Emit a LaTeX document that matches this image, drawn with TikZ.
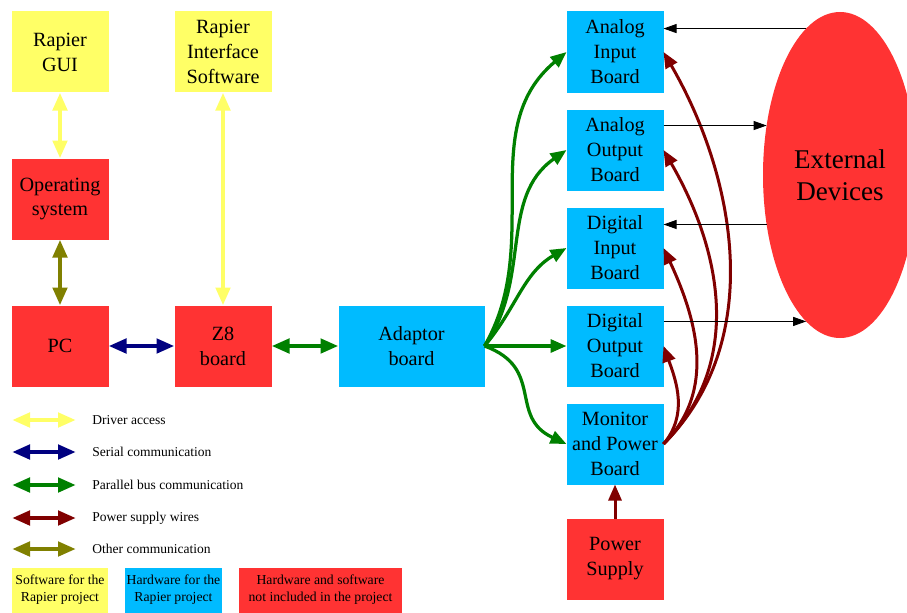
\documentclass[tikz,border=0pt]{standalone}
\usepackage{fontspec}
\setmainfont{Liberation Serif}
\usetikzlibrary{shapes.geometric, arrows.meta, positioning}
\definecolor{swyellow}{RGB}{255,255,102}
\definecolor{hwblue}{RGB}{0,187,255}
\definecolor{extred}{RGB}{255,51,51}
\definecolor{sernavy}{RGB}{0,0,128}
\definecolor{pargreen}{RGB}{0,128,0}
\definecolor{pwrred}{RGB}{128,0,0}
\definecolor{otholive}{RGB}{128,128,0}
\tikzset{
  swbox/.style={rectangle, fill=swyellow, minimum width=1.94cm, minimum height=1.62cm,
    align=center, font=\fontsize{11.5}{14.2}\selectfont, inner sep=0pt, outer sep=0pt},
  hwbox/.style={rectangle, fill=hwblue, minimum width=1.94cm, minimum height=1.62cm,
    align=center, font=\fontsize{11.5}{14.2}\selectfont, inner sep=0pt, outer sep=0pt},
  extbox/.style={rectangle, fill=extred, minimum width=1.94cm, minimum height=1.62cm,
    align=center, font=\fontsize{11.5}{14.2}\selectfont, inner sep=0pt, outer sep=0pt},
  legtext/.style={anchor=west, font=\fontsize{7.7}{9.6}\selectfont, inner sep=0pt},
  legbox/.style={rectangle, minimum height=0.9cm, align=center,
    font=\fontsize{7.8}{9.6}\selectfont, inner sep=0pt, outer sep=0pt},
  dblarrow/.style={{Triangle[length=0.36cm,width=0.28cm]}-{Triangle[length=0.36cm,width=0.28cm]},
    line width=0.09cm},
  busarrow/.style={-{Triangle[length=0.32cm,width=0.26cm]}, line width=0.065cm, color=pargreen},
  pwrarrow/.style={-{Triangle[length=0.32cm,width=0.26cm]}, line width=0.06cm, color=pwrred},
  sigarrow/.style={-{Triangle[length=0.26cm,width=0.18cm]}, line width=0.5pt, color=black}
}

\begin{document}
\begin{tikzpicture}
  \useasboundingbox (0,0) rectangle (18.14,-12.24);

  % Software and PC side
  \node[swbox] (gui) at (1.2,-1.04) {Rapier\\GUI};
  \node[swbox, right=1.32cm of gui] (ris) {Rapier\\Interface\\Software};
  \node[extbox, below=1.32cm of gui] (os) {Operating\\system};
  \node[extbox, below=1.32cm of os] (pc) {PC};
  \node[extbox, right=1.32cm of pc] (z8) {Z8\\board};
  \node[hwbox, minimum width=2.92cm, right=1.34cm of z8] (adaptor) {Adaptor\\board};

  % Boards
  \node[hwbox, right=1.64cm of adaptor] (dob) {Digital\\Output\\Board};
  \node[hwbox, above=0.34cm of dob] (dib) {Digital\\Input\\Board};
  \node[hwbox, above=0.34cm of dib] (aob) {Analog\\Output\\Board};
  \node[hwbox, above=0.34cm of aob] (aib) {Analog\\Input\\Board};
  \node[hwbox, below=0.34cm of dob] (mon) {Monitor\\and Power\\Board};
  \node[extbox, below=0.68cm of mon] (psu) {Power\\Supply};
  \node[ellipse, fill=extred, minimum width=3.08cm, minimum height=6.52cm, inner sep=0pt,
    outer sep=0pt, align=center, font=\fontsize{15.4}{18.1}\selectfont] (ext) at (16.8,-3.5)
    {External\\Devices};

  % Arrows
  \draw[dblarrow, swyellow] (gui) -- (os);
  \draw[dblarrow, swyellow] (ris) -- (z8);
  \draw[dblarrow, otholive] (os) -- (pc);
  \draw[dblarrow, sernavy] (pc) -- (z8);
  \draw[dblarrow, pargreen] (z8) -- (adaptor);

  \draw[busarrow] (adaptor.east) to[out=60, in=220] (aib.west);
  \draw[busarrow] (adaptor.east) to[out=55, in=215] (aob.west);
  \draw[busarrow] (adaptor.east) to[out=50, in=210] (dib.west);
  \draw[busarrow] (adaptor.east) -- (dob.west);
  \draw[busarrow] (adaptor.east) to[out=-20, in=155, looseness=1.3] (mon.west);

  \draw[pwrarrow] (mon.east) to[out=45, in=-60, looseness=0.95] (aib.east);
  \draw[pwrarrow] (mon.east) to[out=45, in=-60] (aob.east);
  \draw[pwrarrow] (mon.east) to[out=45, in=-65] (dib.east);
  \draw[pwrarrow] (mon.east) to[out=50, in=-70] (dob.east);
  \draw[pwrarrow] (psu) -- (mon);

  \draw[sigarrow] (ext.103) -- (ext.103 -| aib.east);
  \draw[sigarrow] (ext.146 -| aob.east) -- (ext.146);
  \draw[sigarrow] (ext.214) -- (ext.214 -| dib.east);
  \draw[sigarrow] (ext.257 -| dob.east) -- (ext.257);

  % Legend
  \coordinate (la1) at (0.24,-8.4);   \coordinate (lb1) at (1.52,-8.4);
  \coordinate (la2) at (0.24,-9.04);  \coordinate (lb2) at (1.52,-9.04);
  \coordinate (la3) at (0.24,-9.7);   \coordinate (lb3) at (1.52,-9.7);
  \coordinate (la4) at (0.24,-10.36); \coordinate (lb4) at (1.52,-10.36);
  \coordinate (la5) at (0.24,-10.98); \coordinate (lb5) at (1.52,-10.98);
  \draw[dblarrow, swyellow] (la1) -- (lb1);
  \draw[dblarrow, sernavy] (la2) -- (lb2);
  \draw[dblarrow, pargreen] (la3) -- (lb3);
  \draw[dblarrow, pwrred] (la4) -- (lb4);
  \draw[dblarrow, otholive] (la5) -- (lb5);
  \node[legtext, right=0.32cm of lb1] (ltx1) {Driver access};
  \node[legtext, right=0.32cm of lb2] (ltx2) {Serial communication};
  \node[legtext, right=0.32cm of lb3] (ltx3) {Parallel bus communication};
  \node[legtext, right=0.32cm of lb4] (ltx4) {Power supply wires};
  \node[legtext, right=0.32cm of lb5] (ltx5) {Other communication};

  \node[legbox, fill=swyellow, minimum width=1.92cm] (lsw) at (1.2,-11.8)
    {Software for the\\Rapier project};
  \node[legbox, fill=hwblue, minimum width=1.94cm, right=0.34cm of lsw] (lhw)
    {Hardware for the\\Rapier project};
  \node[legbox, fill=extred, minimum width=3.26cm, right=0.34cm of lhw] (lext)
    {Hardware and software\\not included in the project};
\end{tikzpicture}
\end{document}
